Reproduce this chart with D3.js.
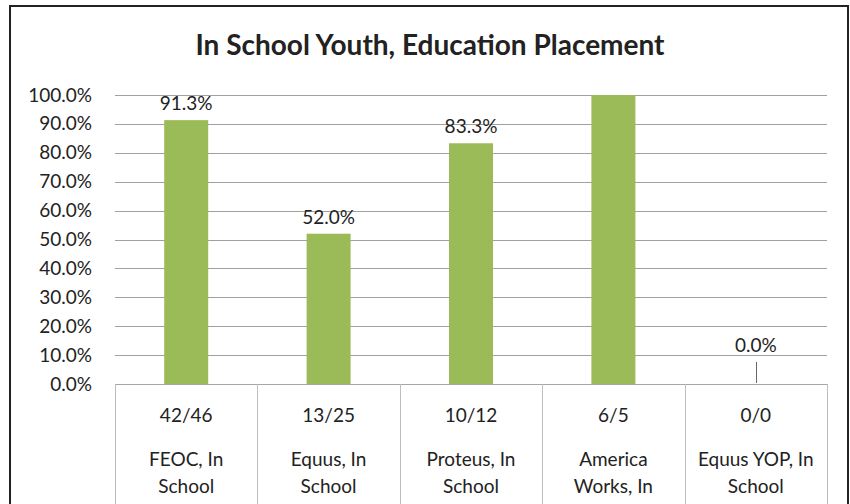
<!DOCTYPE html>
<html>
<head>
  <meta charset="utf-8">
  <script src="https://d3js.org/d3.v7.min.js"></script>
  <style>
    body { margin: 0; background: #fff; font-family: Lato, "Open Sans", sans-serif; }
    .grid line { stroke: #a0a0a0; stroke-width: 1; }
    .tick text { fill: #222; }
  </style>
</head>
<body>
<script>
// chart data
var categories = ["FEOC, In School", "Equus, In School", "Proteus, In School",
                  "America Works, In School", "Equus YOP, In School"];
var counts = ["42/46", "13/25", "10/12", "6/5", "0/0"];
var rates = [0.913, 0.52, 0.833, 1.2, 0.0];
var yTicks = [0, 0.1, 0.2, 0.3, 0.4, 0.5, 0.6, 0.7, 0.8, 0.9, 1.0];

var W = 850, H = 504;
var margin = {top: 95, left: 115, right: 23, bottom: 120};

var svg = d3.select("body").append("svg")
    .attr("width", W)
    .attr("height", H);

// outer chart frame (bottom is cut off in the scan)
svg.append("path")
    .attr("d", "M10,520 V6 H848 V520")
    .attr("fill", "none")
    .attr("stroke", "#222")
    .attr("stroke-width", 2);

svg.append("text")
    .attr("x", 430)
    .attr("y", 55)
    .attr("text-anchor", "middle")
    .style("font-size", "28px")
    .style("font-weight", 700)
    .style("fill", "#222")
    .text("In School Youth, Education Placement");

var x = d3.scaleBand()
    .domain(categories)
    .range([margin.left, W - margin.right])
    .paddingInner(0)
    .paddingOuter(0);

var y = d3.scaleLinear()
    .domain([0, 1])
    .range([384, margin.top])
    .clamp(true);

// gridlines
svg.append("g")
    .attr("class", "grid")
    .selectAll("line")
    .data(yTicks.slice(1))
    .enter().append("line")
    .attr("x1", margin.left)
    .attr("x2", W - margin.right)
    .attr("y1", function (d) { return Math.round(y(d)) + 0.5; })
    .attr("y2", function (d) { return Math.round(y(d)) + 0.5; });

// y axis labels
var yAxis = d3.axisLeft(y)
    .tickValues(yTicks)
    .tickFormat(d3.format(".1%"))
    .tickSize(0)
    .tickPadding(23);
svg.append("g")
    .attr("transform", "translate(" + margin.left + ",0)")
    .call(yAxis)
    .call(function (g) { g.select(".domain").remove(); })
    .selectAll("text")
    .style("font-family", "Lato, sans-serif")
    .style("font-size", "19px");

// bars
var barW = 44;
svg.selectAll("rect.bar")
    .data(rates)
    .enter().append("rect")
    .attr("class", "bar")
    .attr("x", function (d, i) { return x(categories[i]) + x.bandwidth() / 2 - barW / 2; })
    .attr("y", function (d) { return y(d); })
    .attr("width", barW)
    .attr("height", function (d) { return y(0) - y(d); })
    .attr("fill", "#9bbb59");

// data labels (skip the one that runs off the axis)
var lab = svg.selectAll("g.lab")
    .data(rates)
    .enter().append("g")
    .attr("class", "lab")
    .filter(function (d) { return d <= 1; });

lab.append("text")
    .attr("x", function (d) { return x(categories[rates.indexOf(d)]) + x.bandwidth() / 2; })
    .attr("y", function (d) { return y(d) - (d === 0 ? 32 : 10); })
    .attr("text-anchor", "middle")
    .style("font-size", "19px")
    .style("fill", "#222")
    .text(function (d) { return d3.format(".1%")(d); });

// leader line for the zero label
lab.filter(function (d) { return d === 0; })
    .append("line")
    .attr("x1", function (d) { return Math.round(x(categories[rates.indexOf(d)]) + x.bandwidth() / 2) + 0.5; })
    .attr("x2", function (d) { return Math.round(x(categories[rates.indexOf(d)]) + x.bandwidth() / 2) + 0.5; })
    .attr("y1", y(0) - 1)
    .attr("y2", y(0) - 22)
    .attr("stroke", "#666")
    .attr("stroke-width", 1);

// category axis as a table of cells
var axisG = svg.append("g");
axisG.append("line")
    .attr("x1", margin.left).attr("x2", W - margin.right)
    .attr("y1", y(0) + 0.5).attr("y2", y(0) + 0.5)
    .attr("stroke", "#a6a6a6");
axisG.selectAll("line.div")
    .data(categories.concat([null]))
    .enter().append("line")
    .attr("class", "div")
    .attr("x1", function (d) { return Math.round(d ? x(d) : x.range()[1]) + 0.5; })
    .attr("x2", function (d) { return Math.round(d ? x(d) : x.range()[1]) + 0.5; })
    .attr("y1", y(0))
    .attr("y2", H + 10)
    .attr("stroke", "#bdbdbd");

categories.forEach(function (c, i) {
  var cx = x(c) + x.bandwidth() / 2;
  var words = c.split(" ");
  // greedy wrap to the cell width
  var lines = [counts[i]];
  var cur = "";
  words.forEach(function (w) {
    var t = cur ? cur + " " + w : w;
    if (t.length > 13) { lines.push(cur); cur = w; } else { cur = t; }
  });
  lines.push(cur);
  // one text per line; the scan cuts the chart off after the third line
  lines.forEach(function (l, k) {
    var ly = k === 0 ? 422 : 466 + (k - 1) * 27;
    if (ly > H) return;
    axisG.append("text")
        .attr("x", cx)
        .attr("y", ly)
        .attr("text-anchor", "middle")
        .style("font-size", "19px")
        .style("fill", "#222")
        .text(l);
  });
});
</script>
</body>
</html>
